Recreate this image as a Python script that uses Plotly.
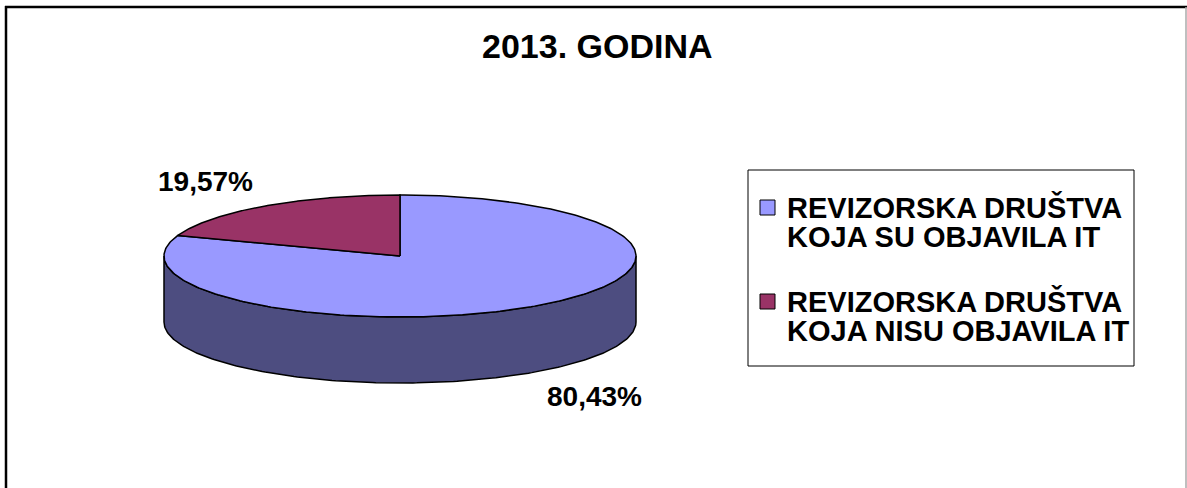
import numpy as np
import plotly.graph_objects as go

# ---------------- data ----------------
title_text = "2013. GODINA"
categories = [
    "REVIZORSKA DRUŠTVA KOJA SU OBJAVILA IT",
    "REVIZORSKA DRUŠTVA KOJA NISU OBJAVILA IT",
]
legend_lines = [
    ["REVIZORSKA DRUŠTVA", "KOJA SU OBJAVILA IT"],
    ["REVIZORSKA DRUŠTVA", "KOJA NISU OBJAVILA IT"],
]
values = [80.43, 19.57]
value_labels = ["80,43%", "19,57%"]

# ---------------- style ----------------
top_colors = ["#9999FF", "#993366"]
side_colors = ["#4D4D80", "#4D1A33"]
FONT = "Liberation Sans, Arial, sans-serif"
W, H = 1187, 488
CX, CY, RX, RY, DEPTH = 400, 256, 236, 61, 66
LABEL_KX, LABEL_KY = 1.43, 1.5
LEG_BOX = (748, 170, 1134, 366)
LEG_TEXT_X = 785
LEG_SW_X = 760
LEG_SW = 15
LEG_FIRST_Y = 207.5        # centre of first line's capitals
LEG_GLYPH_PX = 29          # glyph size of legend text
LEG_PITCH_FONT = 22.5      # line pitch = 1.3 * this
LEG_ITEM_PITCH = 94


def ell(theta_deg, dy=0.0):
    t = np.radians(theta_deg)
    return CX + RX * np.sin(t), CY - RY * np.cos(t) + dy


fig = go.Figure()

total = sum(values)
angles = np.cumsum([0] + [v / total * 360 for v in values])

# side walls (front half only visible: 90..270 deg clockwise from top)
for i in range(len(values)):
    a0, a1 = max(angles[i], 90), min(angles[i + 1], 270)
    if a1 <= a0:
        continue
    th = np.linspace(a0, a1, 200)
    xt, yt = ell(th)
    xb, yb = ell(th[::-1], DEPTH)
    xs = np.concatenate([xt, xb, xt[:1]])
    ys = np.concatenate([yt, yb, yt[:1]])
    fig.add_trace(go.Scatter(x=xs, y=ys, mode="lines", fill="toself",
                             fillcolor=side_colors[i],
                             line=dict(color="black", width=1.5),
                             hoverinfo="skip", showlegend=False))

# top faces
for i in range(len(values)):
    th = np.linspace(angles[i], angles[i + 1], 300)
    xa, ya = ell(th)
    xs = np.concatenate([[CX], xa, [CX]])
    ys = np.concatenate([[CY], ya, [CY]])
    fig.add_trace(go.Scatter(x=xs, y=ys, mode="lines", fill="toself",
                             fillcolor=top_colors[i],
                             line=dict(color="black", width=1.5),
                             name=categories[i],
                             hoverinfo="skip", showlegend=False))

annotations = []
# value labels
for i in range(len(values)):
    mid = (angles[i] + angles[i + 1]) / 2
    t = np.radians(mid)
    lx = CX + LABEL_KX * RX * np.sin(t)
    ly = CY - LABEL_KY * RY * np.cos(t)
    if 90 < mid < 270:
        ly += DEPTH
    annotations.append(dict(x=lx, y=ly, xref="x", yref="y", showarrow=False,
                            text="<b>" + value_labels[i] + "</b>",
                            font=dict(family=FONT, size=28, color="black"),
                            xanchor="center", yanchor="middle"))

# title
annotations.append(dict(x=597, y=45.5, xref="x", yref="y", showarrow=False,
                        text="<b>" + title_text + "</b>",
                        font=dict(family=FONT, size=34, color="black"),
                        xanchor="center", yanchor="middle"))

shapes = []
# legend box
shapes.append(dict(type="rect", xref="x", yref="y",
                   x0=LEG_BOX[0], y0=LEG_BOX[1], x1=LEG_BOX[2], y1=LEG_BOX[3],
                   line=dict(color="black", width=1), fillcolor="white", layer="below"))
for i, lines in enumerate(legend_lines):
    y_first = LEG_FIRST_Y + i * LEG_ITEM_PITCH
    shapes.append(dict(type="rect", xref="x", yref="y",
                       x0=LEG_SW_X, x1=LEG_SW_X + LEG_SW,
                       y0=y_first - LEG_SW / 2, y1=y_first + LEG_SW / 2,
                       line=dict(color="black", width=1), fillcolor=top_colors[i]))
    txt = "<br>".join(
        "<span style='font-size:%dpx'><b>%s</b></span>" % (LEG_GLYPH_PX, ln) for ln in lines)
    # first baseline = cap centre + 0.358em ; bbox centre = baseline + half of (pitch + desc - asc)
    base1 = y_first + 0.358 * LEG_GLYPH_PX
    pitch = 1.3 * LEG_PITCH_FONT
    yc = base1 + (pitch + 0.212 * LEG_GLYPH_PX - 0.905 * LEG_GLYPH_PX) / 2
    annotations.append(dict(x=LEG_TEXT_X, y=yc, xref="x", yref="y", showarrow=False,
                            text=txt, align="left",
                            font=dict(family=FONT, size=LEG_PITCH_FONT, color="black"),
                            xanchor="left", yanchor="middle"))

# chart border
shapes.append(dict(type="line", xref="x", yref="y", x0=6, x1=6, y0=6, y1=H + 5,
                   line=dict(color="black", width=2.5)))
shapes.append(dict(type="line", xref="x", yref="y", x0=5, x1=W + 5, y0=7, y1=7,
                   line=dict(color="black", width=2.5)))
shapes.append(dict(type="line", xref="x", yref="y", x0=W - 1, x1=W - 1, y0=7, y1=H + 5,
                   line=dict(color="#aaaaaa", width=1.5)))

fig.update_layout(
    width=W, height=H,
    margin=dict(l=0, r=0, t=0, b=0),
    paper_bgcolor="white", plot_bgcolor="white",
    xaxis=dict(range=[0, W], visible=False, fixedrange=True),
    yaxis=dict(range=[H, 0], visible=False, fixedrange=True),
    annotations=annotations, shapes=shapes,
    showlegend=False,
)

fig.write_html("out.html", config={"displayModeBar": False},
               post_script="document.body.style.margin='0';document.body.style.overflow='hidden';")
